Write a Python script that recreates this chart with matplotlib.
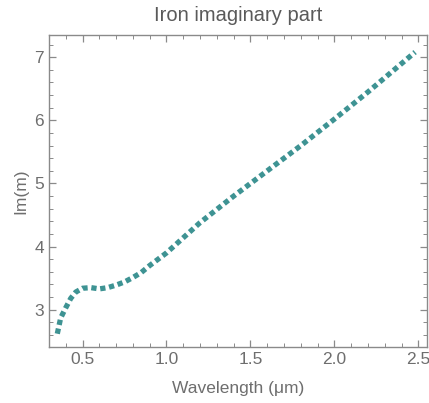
import matplotlib
matplotlib.use("Agg")
import matplotlib.pyplot as plt
from matplotlib.ticker import MultipleLocator

# imaginary part of iron refractive index
wavelength = [0.35, 0.37, 0.40, 0.43, 0.46, 0.50, 0.55, 0.60, 0.65, 0.70, 0.75,
              0.80, 0.85, 0.90, 0.95, 1.0, 1.2, 1.4, 1.6, 1.8, 2.0, 2.2, 2.4, 2.48]
im_m = [2.62, 2.87, 3.03, 3.18, 3.28, 3.34, 3.35, 3.33, 3.35, 3.39, 3.44,
        3.51, 3.59, 3.70, 3.80, 3.90, 4.38, 4.80, 5.20, 5.60, 6.02, 6.45, 6.90, 7.08]

plt.rcParams['font.family'] = ['Liberation Sans', 'DejaVu Sans']
text_col = '#6e6e6e'
frame_col = '#8a8a8a'

fig = plt.figure(figsize=(4.29, 4.03), dpi=100)
ax = fig.add_axes([0.114, 0.139, 0.881, 0.774])

ax.plot(wavelength, im_m, color='#3e9393', lw=3.8, dashes=(1.0, 0.7),
        dash_capstyle='butt')

ax.set_xlim(0.30, 2.55)
ax.set_ylim(2.41, 7.35)
ax.xaxis.set_minor_locator(MultipleLocator(0.1))
ax.yaxis.set_major_locator(MultipleLocator(1))
ax.yaxis.set_minor_locator(MultipleLocator(0.2))
ax.set_xticks([0.5, 1.0, 1.5, 2.0, 2.5])
ax.set_xticklabels(['0.5', '1.0', '1.5', '2.0', '2.5'])

ax.tick_params(which='both', direction='in', top=True, right=True,
               color=frame_col, labelcolor=text_col, labelsize=12.5)
ax.tick_params(which='major', length=5, width=0.9)
ax.tick_params(which='minor', length=3, width=0.7)
for s in ax.spines.values():
    s.set_color(frame_col)
    s.set_linewidth(1.0)

ax.set_title("Iron imaginary part", color='#5a5a5a', fontsize=14.5, pad=10)
ax.set_xlabel("Wavelength (μm)", color=text_col, fontsize=12.5, labelpad=10)
ax.set_ylabel("Im(m)", color=text_col, fontsize=12.5)

fig.savefig("out.png", dpi=100)
